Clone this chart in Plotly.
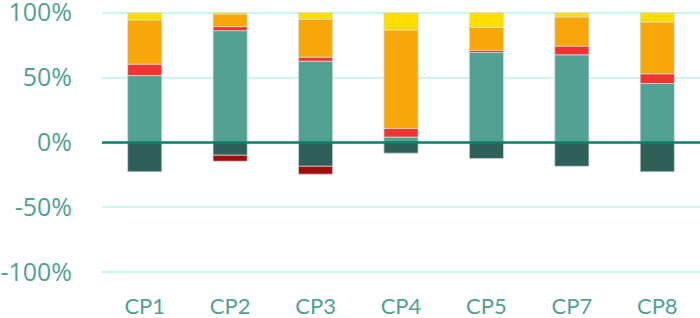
import plotly.graph_objects as go

categories = ["CP1", "CP2", "CP3", "CP4", "CP5", "CP7", "CP8"]
teal = [51.5, 86.1, 62.6, 4.2, 69.3, 67.5, 45.4]
red = [8.8, 3.1, 3.1, 6.6, 1.6, 6.7, 7.5]
orange = [34.0, 9.7, 29.1, 75.8, 17.7, 22.4, 39.8]
yellow = [5.7, 1.1, 5.2, 13.4, 11.4, 3.4, 7.3]
dark_neg = [-22.6, -9.8, -18.3, -8.2, -12.3, -18.3, -22.6]
darkred_neg = [0, -4.6, -6.1, 0, 0, 0, 0]
tick_vals = [-100, -50, 0, 50, 100]
tick_text = ["-100%", "-50%", "0%", "50%", "100%"]

series = [
    ("Teal", teal, "#52A193"),
    ("Red", red, "#F03434"),
    ("Orange", orange, "#F7A70A"),
    ("Yellow", yellow, "#FFDD00"),
    ("Dark", dark_neg, "#2E5F58"),
    ("Dark red", darkred_neg, "#A10E0E"),
]

fig = go.Figure()
for name, vals, col in series:
    fig.add_trace(go.Bar(
        x=categories, y=vals, name=name,
        marker=dict(color=col, line=dict(color="rgba(210,225,222,0.7)", width=1)),
    ))

fig.add_shape(type="line", xref="paper", yref="y", x0=0, x1=1, y0=0, y1=0,
              line=dict(color="#0E806A", width=2.5), layer="above")

fig.update_layout(
    barmode="relative",
    bargap=0.6,
    width=700, height=318,
    margin=dict(l=102, r=0, t=10, b=43),
    plot_bgcolor="white", paper_bgcolor="white",
    showlegend=False,
)
fig.update_yaxes(
    range=[-102, 102], automargin=False,
    tickvals=tick_vals, ticktext=tick_text,
    showgrid=True, gridcolor="#CCF7EE", gridwidth=2,
    zeroline=False,
    tickfont=dict(family="Open Sans", size=25, color="#52A193"),
    ticks="outside", ticklen=24, tickcolor="rgba(0,0,0,0)",
    ticklabeloverflow="allow",
)
fig.update_xaxes(
    showgrid=False, automargin=False,
    tickfont=dict(family="Lato", size=22, color="#52A193"),
    ticks="outside", ticklen=12, tickcolor="rgba(0,0,0,0)",
    ticklabeloverflow="allow",
)
fig.write_html("out.html", config={"displayModeBar": False},
               post_script="document.body.style.margin='0';")
